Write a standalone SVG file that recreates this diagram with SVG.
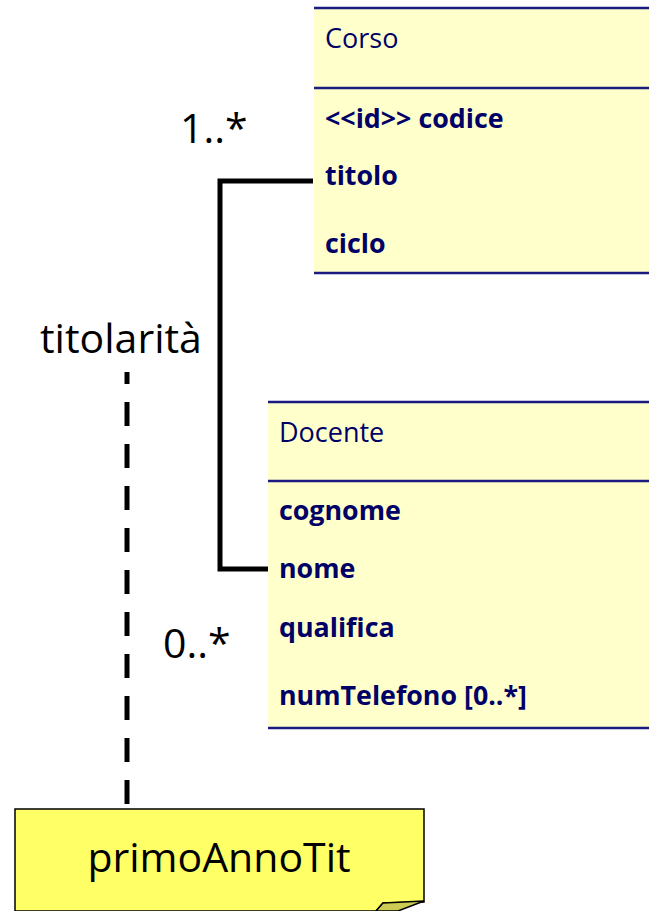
<svg xmlns="http://www.w3.org/2000/svg" width="649" height="911" viewBox="0 0 649 911">
<style>
.box{fill:#FFFFCC;stroke:none}
.sep{stroke:#1A1A80;stroke-width:2.5;fill:none}
.hdr{font-family:"Open Sans","Liberation Sans",sans-serif;font-size:27px;fill:#000066}
.att{font-family:"Open Sans","Liberation Sans",sans-serif;font-size:26.8px;font-weight:bold;fill:#000066}
.lbl{font-family:"Open Sans","Liberation Sans",sans-serif;font-size:41px;fill:#000000}
.conn{stroke:#000;stroke-width:5;fill:none}
</style>
<g id="Corso">
<rect class="box" x="314" y="7" width="335" height="267"/>
<line class="sep" x1="314" y1="8" x2="649" y2="8"/>
<line class="sep" x1="314" y1="88" x2="649" y2="88"/>
<line class="sep" x1="314" y1="273" x2="649" y2="273"/>
<text class="hdr" x="325" y="48">Corso</text>
<text class="att" x="325" y="128">&lt;&lt;id&gt;&gt; codice</text>
<text class="att" x="325" y="185">titolo</text>
<text class="att" x="325" y="253">ciclo</text>
</g>
<g id="Docente">
<rect class="box" x="268" y="401" width="381" height="328"/>
<line class="sep" x1="268" y1="402" x2="649" y2="402"/>
<line class="sep" x1="268" y1="481" x2="649" y2="481"/>
<line class="sep" x1="268" y1="728" x2="649" y2="728"/>
<text class="hdr" x="279" y="442">Docente</text>
<text class="att" x="279" y="520">cognome</text>
<text class="att" x="279" y="578">nome</text>
<text class="att" x="279" y="637">qualifica</text>
<text class="att" x="279" y="705">numTelefono [0..*]</text>
</g>
<g id="connectors">
<polyline class="conn" points="313,181 220,181 220,569 268,569"/>
<line x1="127" y1="372" x2="127" y2="805" stroke="#000" stroke-width="5" stroke-dasharray="24 18" stroke-dashoffset="12"/>
</g>
<g id="labels">
<text class="lbl" x="180" y="143">1..*</text>
<text class="lbl" x="40" y="353">titolarità</text>
<text class="lbl" x="163" y="658">0..*</text>
</g>
<g id="note">
<path d="M15,809 H424 V902 L383,903 L376,911 H15 Z" fill="#FFFF66" stroke="#000" stroke-width="1.5"/>
<path d="M383,903 L424,901 L398,911 L376,911 Z" fill="#CCCC55" stroke="#000" stroke-width="1.5"/>
<text class="lbl" x="219" y="872" text-anchor="middle">primoAnnoTit</text>
</g>
</svg>
